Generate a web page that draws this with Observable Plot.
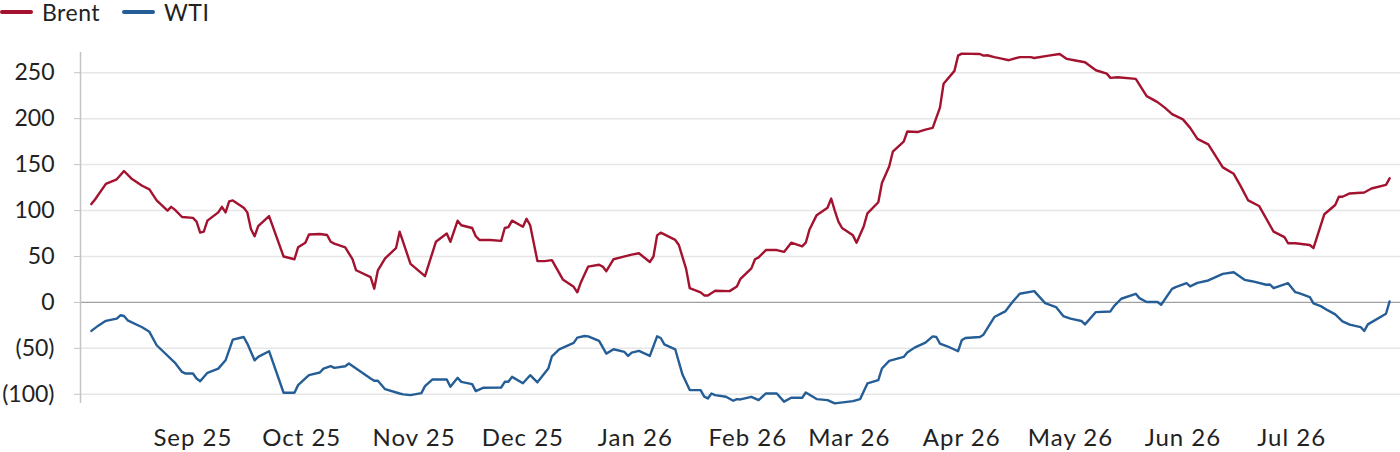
<!DOCTYPE html>
<html>
<head>
<meta charset="utf-8">
<script src="https://cdn.jsdelivr.net/npm/d3@7"></script>
<script src="https://cdn.jsdelivr.net/npm/@observablehq/plot@0.6"></script>
<style>
  html, body { margin: 0; padding: 0; background: #fff; }
  body { width: 1400px; height: 452px; overflow: hidden; font-family: Lato, "Open Sans", sans-serif; color: #222; }
  #legend { height: 28px; position: relative; font-size: 23px; letter-spacing: 0.5px; }
  .item { position: absolute; top: 0; height: 24px; display: flex; align-items: center; }
  .sw { width: 33px; height: 4px; border-radius: 2px; margin-right: 9px; }
</style>
</head>
<body>
<div id="legend"></div>
<div id="chart"></div>
<script>
const seriesNames = ["Brent", "WTI"];
const seriesColors = ["#A3122F", "#255E97"];

const brentDates = ["2025-08-04","2025-08-05","2025-08-08","2025-08-11","2025-08-13","2025-08-15","2025-08-18","2025-08-20","2025-08-22","2025-08-25","2025-08-26","2025-08-27","2025-08-29","2025-09-01","2025-09-02","2025-09-03","2025-09-04","2025-09-05","2025-09-08","2025-09-09","2025-09-10","2025-09-11","2025-09-12","2025-09-15","2025-09-16","2025-09-17","2025-09-18","2025-09-19","2025-09-22","2025-09-26","2025-09-29","2025-09-30","2025-10-02","2025-10-03","2025-10-06","2025-10-08","2025-10-09","2025-10-10","2025-10-13","2025-10-15","2025-10-16","2025-10-20","2025-10-21","2025-10-22","2025-10-24","2025-10-27","2025-10-28","2025-10-31","2025-11-04","2025-11-07","2025-11-10","2025-11-11","2025-11-13","2025-11-14","2025-11-17","2025-11-18","2025-11-19","2025-11-22","2025-11-25","2025-11-26","2025-11-27","2025-11-28","2025-12-01","2025-12-02","2025-12-03","2025-12-05","2025-12-07","2025-12-09","2025-12-12","2025-12-15","2025-12-16","2025-12-17","2025-12-19","2025-12-22","2025-12-23","2025-12-24","2025-12-26","2025-12-28","2025-12-31","2026-01-02","2026-01-05","2026-01-06","2026-01-07","2026-01-08","2026-01-12","2026-01-13","2026-01-15","2026-01-16","2026-01-19","2026-01-20","2026-01-21","2026-01-23","2026-01-27","2026-01-29","2026-01-30","2026-02-02","2026-02-03","2026-02-04","2026-02-06","2026-02-09","2026-02-11","2026-02-13","2026-02-16","2026-02-17","2026-02-18","2026-02-20","2026-02-23","2026-02-24","2026-02-25","2026-02-26","2026-02-27","2026-03-02","2026-03-03","2026-03-05","2026-03-06","2026-03-09","2026-03-10","2026-03-12","2026-03-13","2026-03-16","2026-03-17","2026-03-20","2026-03-22","2026-03-24","2026-03-26","2026-03-27","2026-03-30","2026-03-31","2026-04-01","2026-04-06","2026-04-07","2026-04-08","2026-04-10","2026-04-12","2026-04-14","2026-04-17","2026-04-20","2026-04-21","2026-04-25","2026-04-28","2026-04-30","2026-05-02","2026-05-05","2026-05-08","2026-05-11","2026-05-12","2026-05-14","2026-05-19","2026-05-22","2026-05-25","2026-05-27","2026-05-29","2026-06-01","2026-06-03","2026-06-05","2026-06-08","2026-06-12","2026-06-15","2026-06-17","2026-06-19","2026-06-22","2026-06-26","2026-06-29","2026-06-30","2026-07-02","2026-07-06","2026-07-07","2026-07-10","2026-07-13","2026-07-14","2026-07-15","2026-07-17","2026-07-21","2026-07-23","2026-07-27","2026-07-28"];
const brentValues = [107,112,129,134,143,135,127,123,111,100,104,101,93,92,88,76,77,89,98,104,98,110,111,103,98,80,72,83,94,50,47,60,65,74,74.5,73.4,66,64,60,47,35,27.5,15,35,48,59,77,42,28.6,66,75,66,89,84,81,72,68,68,67,81,82,89,82.4,91,84,45,45,46,25,17,11,22,39,41,39,34,47,49,52,53.5,44,50,73,76,68,62.5,36.5,15.5,11,7.6,7.6,12.7,12.3,17.4,25.7,37,47,49,57,57,55,65,61,65,79,95,103,113,100,88,81,73,65,83,97,109,130,148,164,175,186,185.5,188,190,212,238,252,268.6,270.8,270.4,268.6,269,267,265.4,263.6,267,267,266,268.6,270.4,265,263.6,261.4,252.7,249,244.4,245,243.3,224.5,218,212,205,199.2,190,178,172,147,140,126,111,105,77,71,64.4,64.4,62.5,59,96,106,115,115,118.6,119.7,124,128,135];

const wtiDates = ["2025-08-04","2025-08-06","2025-08-08","2025-08-11","2025-08-12","2025-08-13","2025-08-14","2025-08-18","2025-08-20","2025-08-22","2025-08-27","2025-08-29","2025-08-30","2025-09-01","2025-09-02","2025-09-03","2025-09-05","2025-09-08","2025-09-10","2025-09-12","2025-09-15","2025-09-16","2025-09-18","2025-09-19","2025-09-22","2025-09-26","2025-09-29","2025-09-30","2025-10-03","2025-10-06","2025-10-07","2025-10-09","2025-10-10","2025-10-13","2025-10-14","2025-10-17","2025-10-20","2025-10-21","2025-10-22","2025-10-24","2025-10-28","2025-10-29","2025-10-31","2025-11-03","2025-11-04","2025-11-06","2025-11-10","2025-11-11","2025-11-13","2025-11-14","2025-11-17","2025-11-18","2025-11-20","2025-11-25","2025-11-26","2025-11-27","2025-11-28","2025-12-01","2025-12-03","2025-12-05","2025-12-08","2025-12-09","2025-12-11","2025-12-15","2025-12-16","2025-12-18","2025-12-19","2025-12-22","2025-12-24","2025-12-26","2025-12-29","2025-12-30","2025-12-31","2026-01-02","2026-01-05","2026-01-07","2026-01-08","2026-01-09","2026-01-12","2026-01-14","2026-01-16","2026-01-19","2026-01-20","2026-01-21","2026-01-22","2026-01-23","2026-01-26","2026-01-28","2026-01-29","2026-01-30","2026-02-02","2026-02-04","2026-02-06","2026-02-09","2026-02-11","2026-02-13","2026-02-16","2026-02-17","2026-02-20","2026-02-23","2026-02-25","2026-03-02","2026-03-04","2026-03-06","2026-03-09","2026-03-10","2026-03-12","2026-03-16","2026-03-17","2026-03-19","2026-03-22","2026-03-24","2026-03-25","2026-03-26","2026-03-28","2026-03-31","2026-04-01","2026-04-02","2026-04-06","2026-04-07","2026-04-10","2026-04-13","2026-04-15","2026-04-17","2026-04-21","2026-04-24","2026-04-27","2026-04-29","2026-05-01","2026-05-04","2026-05-05","2026-05-08","2026-05-12","2026-05-13","2026-05-15","2026-05-19","2026-05-20","2026-05-22","2026-05-25","2026-05-26","2026-05-29","2026-05-30","2026-06-02","2026-06-03","2026-06-05","2026-06-08","2026-06-10","2026-06-12","2026-06-15","2026-06-18","2026-06-20","2026-06-24","2026-06-25","2026-06-26","2026-06-30","2026-07-02","2026-07-03","2026-07-06","2026-07-07","2026-07-09","2026-07-11","2026-07-13","2026-07-15","2026-07-17","2026-07-20","2026-07-21","2026-07-22","2026-07-27","2026-07-28"];
const wtiValues = [-31,-25,-20,-17.7,-14,-14.8,-19.5,-27,-32,-46.6,-65.4,-75.6,-77.4,-77.4,-82.8,-85.7,-76.6,-72,-63,-40.5,-37.6,-44.8,-63,-59.3,-53.1,-98.3,-98.3,-90,-79.2,-76.3,-72,-69.4,-71.2,-69.4,-66.5,-74.5,-82.8,-85.3,-85.3,-94.4,-99.1,-100.1,-100.9,-98.7,-91.1,-83.9,-83.9,-91.8,-82.1,-86.4,-88.9,-96.5,-92.9,-92.6,-86.4,-86.4,-81,-88,-79.2,-87,-72,-58.6,-51,-44,-38.3,-36.5,-36.9,-41.9,-55.7,-51,-53.9,-58.2,-54.6,-52.8,-58.2,-36.9,-38.7,-45.6,-51,-78.5,-95.4,-95.4,-102.6,-104.5,-99.1,-100.9,-102.6,-107,-105.2,-105.6,-102.7,-106.3,-99.1,-99.1,-108,-103.8,-103.8,-98,-105.2,-106.3,-109.9,-107.4,-105.2,-88.2,-84.6,-71.9,-63.6,-59.3,-54.6,-49.2,-43.7,-36.9,-37.6,-44.8,-47.7,-53.1,-41.2,-38.7,-37.6,-35.1,-15.9,-9.8,0.4,9.4,12.3,-0.7,-5.1,-14.8,-17.7,-20.2,-23.9,-10.5,-9.8,-4,4,9.4,4.7,0.4,0.4,-2.5,14.8,16.6,21,17.4,21.3,23.9,27.5,31.1,32.9,24.6,23.1,19.2,19.5,15.5,21,11.2,10.1,5.8,-1.1,-4,-8.7,-13,-20.6,-24.2,-26.8,-31.1,-23.9,-12.3,1.1];

const yTicks = [-100, -50, 0, 50, 100, 150, 200, 250];
const xTickDates = ["2025-09-01","2025-10-01","2025-11-01","2025-12-01","2026-01-01","2026-02-01","2026-03-01","2026-04-01","2026-05-01","2026-06-01","2026-07-01"];
const xDomain = ["2025-08-01", "2026-07-31"];
const yDomain = [-110, 272];

const parse = d3.utcParse("%Y-%m-%d");
const rows = [
  ...brentDates.map((d, i) => ({series: seriesNames[0], date: parse(d), value: brentValues[i]})),
  ...wtiDates.map((d, i) => ({series: seriesNames[1], date: parse(d), value: wtiValues[i]}))
];

// legend
const legend = document.getElementById("legend");
const legendX = [0, 122];
seriesNames.forEach((name, i) => {
  const it = document.createElement("div");
  it.className = "item";
  it.style.left = legendX[i] + "px";
  it.innerHTML = `<span class="sw" style="background:${seriesColors[i]}"></span><span>${name}</span>`;
  legend.appendChild(it);
});

const fmtY = d => d < 0 ? `(${-d})` : `${d}`;
const fmtX = d3.utcFormat("%b %y");
const x0 = parse(xDomain[0]);

const chart = Plot.plot({
  width: 1400,
  height: 424,
  marginLeft: 80,
  marginRight: 0,
  marginTop: 24,
  marginBottom: 49,
  style: {fontFamily: "Lato, 'Open Sans', sans-serif", fontSize: "24px", color: "#222", background: "#fff"},
  x: {type: "utc", domain: xDomain.map(parse)},
  y: {domain: yDomain},
  color: {domain: seriesNames, range: seriesColors},
  marks: [
    Plot.ruleY(yTicks.filter(d => d !== 0), {stroke: "#e6e6e6", strokeWidth: 1.5}),
    Plot.ruleY([0], {stroke: "#a0a0a0", strokeWidth: 1.3}),
    Plot.ruleX([x0], {y1: yDomain[0], y2: yDomain[1], stroke: "#c4c4c4", strokeWidth: 1.5}),
    Plot.axisY({ticks: yTicks, tickFormat: fmtY, tickSize: 6, tickPadding: 20, stroke: "#c4c4c4", fill: "#222", fontSize: 23, label: null}),
    Plot.axisX({ticks: xTickDates.map(parse), tickFormat: fmtX, tickSize: 0, tickPadding: 25, fill: "#222", label: null}),
    Plot.lineY(rows, {x: "date", y: "value", z: "series", stroke: "series", strokeWidth: 2.4, strokeLinejoin: "round"})
  ]
});
d3.select(chart).selectAll('g[aria-label="x-axis tick label"] text').style("letter-spacing", "1px");
document.getElementById("chart").appendChild(chart);
</script>
</body>
</html>
